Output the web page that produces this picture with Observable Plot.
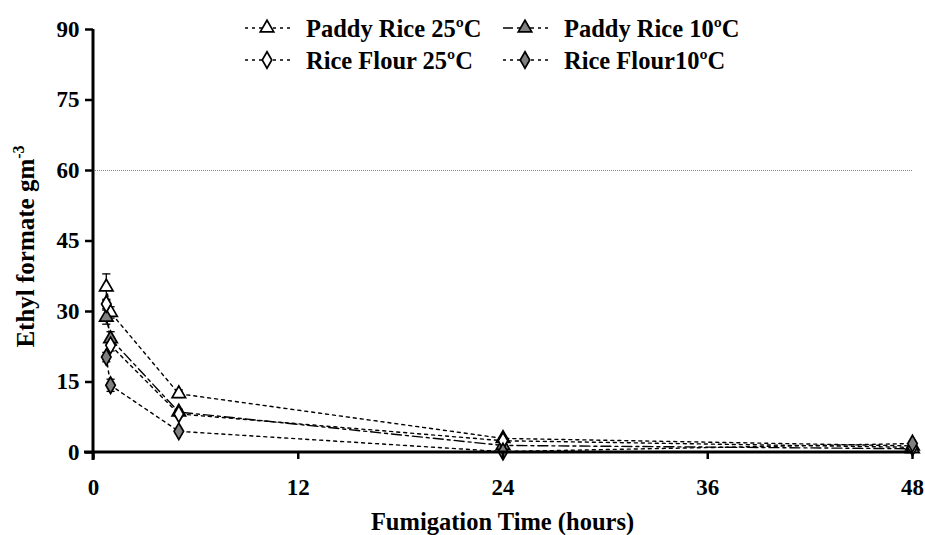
<!DOCTYPE html>
<html><head><meta charset="utf-8">
<script src="https://cdn.jsdelivr.net/npm/d3@7"></script>
<script src="https://cdn.jsdelivr.net/npm/@observablehq/plot@0.6"></script>
<style>body{margin:0;background:#fff} #chart{width:925px;height:535px}</style>
</head><body><div id="chart"></div>
<script>
// ---- data ----
const times = [0.75, 1, 5, 24, 48];
const seriesNames = ["Paddy Rice 25ºC", "Paddy Rice 10ºC", "Rice Flour 25ºC", "Rice Flour10ºC"];
const paddy25 = [35.2, 29.8, 12.5, 3.0, 1.4];
const paddy10 = [28.8, 24.2, 8.6, 1.5, 0.8];
const flour25 = [31.6, 22.8, 8.2, 2.5, 1.1];
const flour10 = [20.3, 14.3, 4.5, 0.2, 1.9];
const paddy25Err = [2.8, 1.2, 0.8, 0.3, 0.2];
const paddy10Err = [1.5, 1.5, 0.6, 0.2, 0.2];
const flour25Err = [1.0, 1.2, 0.6, 0.2, 0.2];
const flour10Err = [1.0, 1.3, 0.5, 0.2, 0.2];
const xTicks = [0, 12, 24, 36, 48];
const yTicks = [0, 15, 30, 45, 60, 75, 90];
const gridValue = [60];
const xTitle = "Fumigation Time (hours)";
const yTitle = "Ethyl formate gm";
const yTitleSup = "-3";

// ---- styles ----
const symbols = ["triangle", "triangle", "diamond", "diamond"];
const fills = ["white", "#808080", "white", "#808080"];
const dashes = ["3,4", "10,4,3,4", "3,4", "3,4"];

const allValues = [paddy25, paddy10, flour25, flour10];
const allErrs = [paddy25Err, paddy10Err, flour25Err, flour10Err];
const rows = [];
seriesNames.forEach((s, i) => times.forEach((t, j) => rows.push({
  series: s, idx: i, time: t, value: allValues[i][j], err: allErrs[i][j]
})));

const cap = { draw(ctx, size) { const w = Math.sqrt(size); ctx.moveTo(-w, 0); ctx.lineTo(w, 0); } };
const font = "'Liberation Serif', 'Times New Roman', serif";

const marks = [
  Plot.ruleY(gridValue, {stroke: "#666", strokeWidth: 0.8, strokeDasharray: "1,1"})
];
seriesNames.forEach((s, i) => {
  const d = rows.filter(r => r.idx === i);
  marks.push(Plot.line(d, {x: "time", y: "value", stroke: "black", strokeWidth: 1.4, strokeDasharray: dashes[i]}));
});
seriesNames.forEach((s, i) => {
  const d = rows.filter(r => r.idx === i);
  marks.push(Plot.ruleX(d, {x: "time", y1: r => r.value - r.err, y2: r => r.value + r.err, stroke: "black", strokeWidth: 1.3}));
  marks.push(Plot.dot(d, {x: "time", y: r => r.value + r.err, symbol: cap, r: 2.3, stroke: "black", strokeWidth: 1.3}));
  marks.push(Plot.dot(d, {x: "time", y: r => r.value - r.err, symbol: cap, r: 2.3, stroke: "black", strokeWidth: 1.3}));
});
seriesNames.forEach((s, i) => {
  const d = rows.filter(r => r.idx === i);
  marks.push(Plot.dot(d, {x: "time", y: "value", symbol: symbols[i], r: 5, fill: fills[i], stroke: "black", strokeWidth: 1.7}));
});
marks.push(
  Plot.axisX({ticks: xTicks, tickSize: 7, tickPadding: 19, fontSize: 23, fontWeight: "bold", label: null, stroke: "black", strokeWidth: 2.5}),
  Plot.axisY({ticks: yTicks, tickSize: 8, tickPadding: 6, fontSize: 23, fontWeight: "bold", label: null, stroke: "black", strokeWidth: 2.5})
);

const chart = Plot.plot({
  width: 925, height: 535,
  marginLeft: 93, marginRight: 13, marginTop: 29, marginBottom: 83,
  style: {fontFamily: font, color: "black", background: "white"},
  x: {domain: [0, 48]},
  y: {domain: [0, 90]},
  marks
});
document.getElementById("chart").append(chart);

const svg = d3.select(chart);
const xs = chart.scale("x"), ys = chart.scale("y");
const x0 = xs.apply(0), x1 = xs.apply(48), y0 = ys.apply(0), y1 = ys.apply(90);
// axis lines as filled rectangles (positions from the scales)
svg.append("rect").attr("x", x0 - 9).attr("y", y0 - 1.5).attr("width", x1 - x0 + 9).attr("height", 3).attr("fill", "black");
svg.append("rect").attr("x", x0 - 1.5).attr("y", y1).attr("width", 3).attr("height", y0 - y1 + 8).attr("fill", "black");

// axis titles
svg.append("text").attr("x", (x0 + x1) / 2).attr("y", 521).attr("dy", "0.35em").attr("text-anchor", "middle")
  .attr("font-family", font).attr("font-weight", "bold").attr("font-size", 24.5).attr("fill", "black").text(xTitle);
const yt = svg.append("text").attr("transform", `translate(25,${(y0 + y1) / 2 + 6}) rotate(-90)`).attr("text-anchor", "middle")
  .attr("dy", "0.35em")
  .attr("font-family", font).attr("font-weight", "bold").attr("font-size", 25).attr("fill", "black");
yt.append("tspan").text(yTitle);
yt.append("tspan").attr("dy", -10).attr("font-size", 16).text(yTitleSup);

// legend
const legPos = [[245, 28], [503, 28], [245, 60], [503, 60]];
seriesNames.forEach((s, i) => {
  const [lx, ly] = legPos[i];
  const g = svg.append("g");
  g.append("line").attr("x1", lx).attr("x2", lx + 45).attr("y1", ly).attr("y2", ly)
    .attr("stroke", "black").attr("stroke-width", 1.4).attr("stroke-dasharray", dashes[i]);
  const sym = symbols[i] === "triangle" ? d3.symbolTriangle : d3.symbolDiamond;
  g.append("path").attr("d", d3.symbol(sym, Math.PI * 5 * 5)())
    .attr("transform", `translate(${lx + 22},${ly})`)
    .attr("fill", fills[i]).attr("stroke", "black").attr("stroke-width", 1.7);
  g.append("text").attr("x", lx + 61).attr("y", ly).attr("dy", "0.35em").attr("text-anchor", "start")
    .attr("font-family", font).attr("font-weight", "bold").attr("font-size", 24.5).attr("fill", "black").text(s);
});
</script></body></html>
